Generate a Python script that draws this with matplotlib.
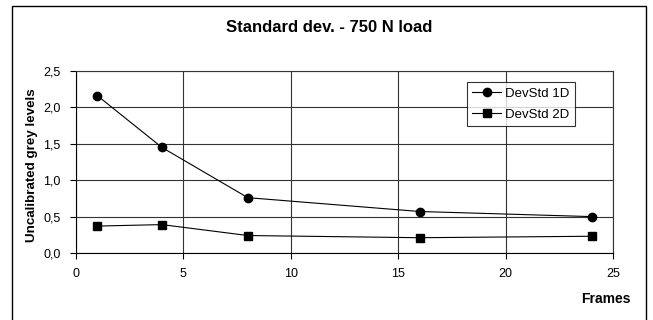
import matplotlib
matplotlib.use('Agg')
import matplotlib.pyplot as plt
from matplotlib.patches import Rectangle
from matplotlib.ticker import FuncFormatter

# data
frames = [1, 4, 8, 16, 24]
devstd_1d = [2.16, 1.45, 0.76, 0.57, 0.50]
devstd_2d = [0.37, 0.39, 0.24, 0.21, 0.23]

plt.rcParams['font.family'] = ['Liberation Sans', 'DejaVu Sans']

fig = plt.figure(figsize=(6.53, 3.2), dpi=100)
W, H = 653, 320
ax = fig.add_axes([76 / W, 1 - 253 / H, (613 - 76) / W, (253 - 71) / H])

# outer chart border
fig.patches.append(Rectangle((12.5 / W, -0.05), (646 - 12.5) / W, 1.05 - 6 / H,
                             transform=fig.transFigure, fill=False,
                             edgecolor='black', linewidth=1.0))

ax.plot(frames, devstd_1d, color='black', lw=0.8, marker='o', ms=6, label='DevStd 1D')
ax.plot(frames, devstd_2d, color='black', lw=0.8, marker='s', ms=6, label='DevStd 2D')

ax.set_xlim(0, 25)
ax.set_ylim(0, 2.5)
ax.set_xticks(range(0, 26, 5))
ax.set_yticks([0, 0.5, 1.0, 1.5, 2.0, 2.5])
ax.yaxis.set_major_formatter(FuncFormatter(lambda v, p: f"{v:.1f}".replace('.', ',')))
ax.grid(True, color='#333333', lw=0.8)
ax.set_axisbelow(True)
ax.tick_params(direction='out', length=4, width=0.8, labelsize=9, colors='black', pad=7)
for s in ax.spines.values():
    s.set_color('#333333')
    s.set_linewidth(0.8)
ax.spines['left'].set_color('black')
ax.spines['bottom'].set_color('black')

ax.set_ylabel('Uncalibrated grey levels', fontsize=9.6, fontweight='bold')
ax.yaxis.set_label_coords(-0.07, 0.48)
fig.text(631 / W, 1 - 299 / H, 'Frames', fontsize=10, fontweight='bold', ha='right', va='center')
fig.text(0.5 * (12.5 + 646) / W, 1 - 27 / H, 'Standard dev. - 750 N load',
         fontsize=12, fontweight='bold', ha='center', va='center')

leg = ax.legend(loc='upper left', bbox_to_anchor=((467 - 76) / (613 - 76), 1 - (82 - 71) / (253 - 71)),
                fontsize=9.5, frameon=True, fancybox=False, edgecolor='black',
                handlelength=2.2, handletextpad=0.3, borderpad=0.4, labelspacing=0.7,
                borderaxespad=0)
leg.get_frame().set_linewidth(0.8)

fig.savefig('out.png', dpi=100)
